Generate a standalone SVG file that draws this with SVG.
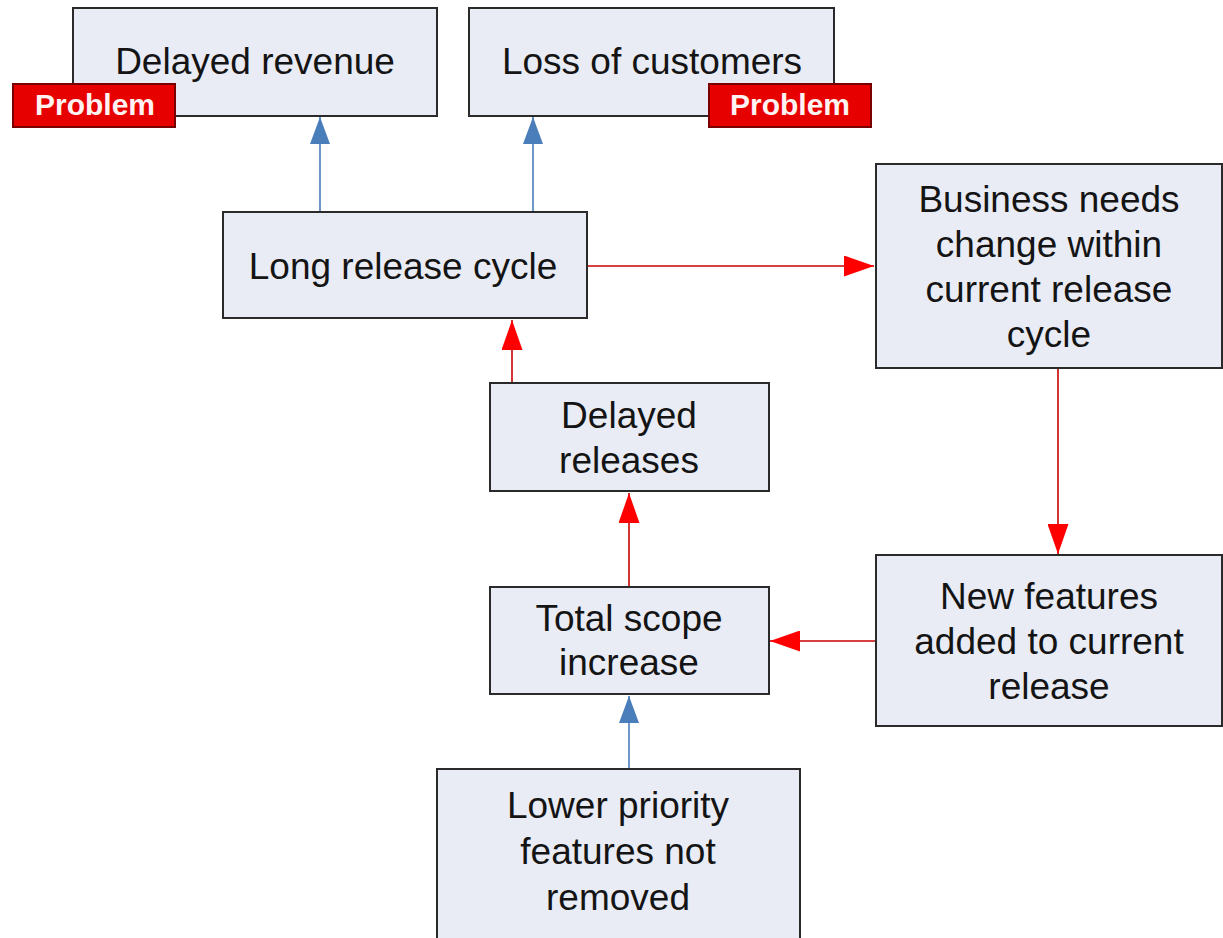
<svg xmlns="http://www.w3.org/2000/svg" width="1223" height="938" viewBox="0 0 1223 938">
<style>
.box{fill:#e9ecf5;stroke:#2a2a2a;stroke-width:2}
.t{font-family:"Liberation Sans",Arial,sans-serif;font-size:37px;fill:#141414;text-anchor:middle}
.badge{fill:#e60000;stroke:#7a0000;stroke-width:2}
.bt{font-family:"Liberation Sans",Arial,sans-serif;font-size:30px;font-weight:bold;fill:#fff2f2;text-anchor:middle}
.blue{stroke:#4a7ebb;stroke-width:1.6;fill:none}
.red{stroke:#c80000;stroke-width:1.6;fill:none}
</style>
<defs>
<marker id="ab" viewBox="0 0 27 20" refX="27" refY="10" markerWidth="27" markerHeight="20" markerUnits="userSpaceOnUse" orient="auto">
<path d="M0,0 L27,10 L0,20 Z" fill="#4a7ebb"/>
</marker>
<marker id="ar" viewBox="0 0 30 21" refX="30" refY="10.5" markerWidth="30" markerHeight="21" markerUnits="userSpaceOnUse" orient="auto">
<path d="M0,0 L30,10.5 L0,21 Z" fill="#ff0000"/>
</marker>
</defs>
<rect width="1223" height="938" fill="#ffffff"/>
<g id="connectors">
<line class="blue" x1="320" y1="212" x2="320" y2="117" marker-end="url(#ab)"/>
<line class="blue" x1="533" y1="212" x2="533" y2="117" marker-end="url(#ab)"/>
<line class="red" x1="587" y1="266" x2="874" y2="266" marker-end="url(#ar)"/>
<line class="red" x1="1058" y1="368" x2="1058" y2="554" marker-end="url(#ar)"/>
<line class="red" x1="876" y1="641" x2="770" y2="641" marker-end="url(#ar)"/>
<line class="red" x1="629" y1="587" x2="629" y2="493" marker-end="url(#ar)"/>
<line class="red" x1="512" y1="383" x2="512" y2="320" marker-end="url(#ar)"/>
<line class="blue" x1="629" y1="769" x2="629" y2="696" marker-end="url(#ab)"/>
</g>
<g id="delayed-revenue">
<rect class="box" x="73" y="8" width="364" height="108"/>
<text class="t" x="255" y="74">Delayed revenue</text>
<rect class="badge" x="13" y="84" width="162" height="43"/>
<text class="bt" x="95" y="115">Problem</text>
</g>
<g id="loss-of-customers">
<rect class="box" x="469" y="8" width="365" height="108"/>
<text class="t" x="652" y="74">Loss of customers</text>
<rect class="badge" x="709" y="84" width="162" height="43"/>
<text class="bt" x="790" y="115">Problem</text>
</g>
<g id="long-release-cycle">
<rect class="box" x="223" y="212" width="364" height="106"/>
<text class="t" x="403" y="279">Long release cycle</text>
</g>
<g id="business-needs">
<rect class="box" x="876" y="164" width="346" height="204"/>
<text class="t" x="1049" y="212">Business needs</text>
<text class="t" x="1049" y="257">change within</text>
<text class="t" x="1049" y="302">current release</text>
<text class="t" x="1049" y="347">cycle</text>
</g>
<g id="delayed-releases">
<rect class="box" x="490" y="383" width="279" height="108"/>
<text class="t" x="629" y="428">Delayed</text>
<text class="t" x="629" y="473">releases</text>
</g>
<g id="total-scope-increase">
<rect class="box" x="490" y="587" width="279" height="107"/>
<text class="t" x="629" y="631">Total scope</text>
<text class="t" x="629" y="675">increase</text>
</g>
<g id="new-features">
<rect class="box" x="876" y="555" width="346" height="171"/>
<text class="t" x="1049" y="609">New features</text>
<text class="t" x="1049" y="654">added to current</text>
<text class="t" x="1049" y="699">release</text>
</g>
<g id="lower-priority">
<rect class="box" x="437" y="769" width="363" height="180"/>
<text class="t" x="618" y="818">Lower priority</text>
<text class="t" x="618" y="864">features not</text>
<text class="t" x="618" y="910">removed</text>
</g>
</svg>
